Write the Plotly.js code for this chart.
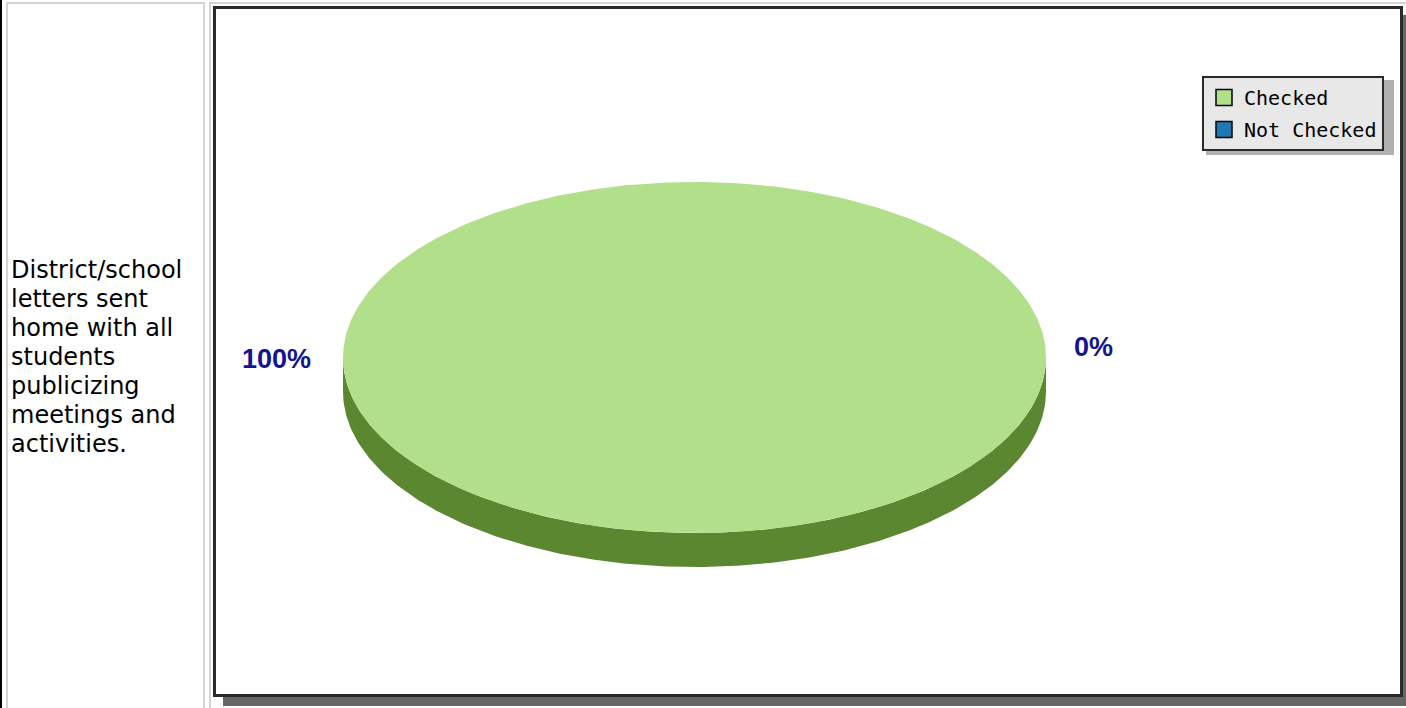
<!DOCTYPE html>
<html><head><meta charset="utf-8">
<script src="https://cdn.plot.ly/plotly-3.0.1.min.js"></script>
<style>
html,body{margin:0;padding:0;width:1406px;height:708px;overflow:hidden;background:#fff;}
#edge{position:absolute;left:0;top:0;width:2px;height:708px;background:#000;}
#cellL{position:absolute;left:6px;top:2px;width:195px;height:720px;border:2px solid #d4d4d4;}
#cellR{position:absolute;left:209px;top:2px;width:1200px;height:720px;border-left:2px solid #d4d4d4;border-top:2px solid #d4d4d4;}
#txt{position:absolute;left:11px;top:256px;font-family:"DejaVu Sans",Verdana,sans-serif;font-size:24px;line-height:29px;color:#000;white-space:nowrap;}
#shadow{position:absolute;left:223px;top:15px;width:1190px;height:691px;background:#666;}
#frame{position:absolute;left:213px;top:6px;width:1190px;height:691px;box-sizing:border-box;border:3px solid #2a2a2a;background:#fff;}
#plot{position:absolute;left:216px;top:9px;width:1184px;height:685px;}
</style>
</head><body>
<div id="edge"></div>
<div id="cellL"></div>
<div id="cellR"></div>
<div id="txt">District/school<br>letters sent<br>home with all<br>students<br>publicizing<br>meetings and<br>activities.</div>
<div id="shadow"></div>
<div id="frame"></div>
<div id="plot"></div>
<script>
// ---- data ----
const categories = ['Checked', 'Not Checked'];
const values = [100, 0];
// ---- styling ----
const topColors = ['#b2df8a', '#1f78b4'];
const sideColors = ['#5b8731', '#14507a'];
const W = 1184, H = 685;
const cx = 478.5, cy = 348.5, rx = 351.5, ry = 175.5, depth = 34;
const labelGap = [30, 26];
const labelShiftY = [-1, 11];

const total = values.reduce((a, b) => a + b, 0);
const traces = [];
const annotations = [];
function pt(t, dy) { return [cx + rx * Math.cos(t), cy - ry * Math.sin(t) + (dy || 0)]; }

let start = 0;
const slices = values.map((v, i) => {
  const a0 = start, a1 = start + 2 * Math.PI * v / total;
  start = a1;
  return {a0, a1, i};
});

// side walls (lower half of the ellipse, theta in [pi, 2pi])
slices.forEach(s => {
  const lo = Math.max(s.a0, Math.PI), hi = Math.min(s.a1, 2 * Math.PI);
  if (hi <= lo) return;
  const xs = [], ys = [];
  const n = 240;
  for (let k = 0; k <= n; k++) { const p = pt(lo + (hi - lo) * k / n); xs.push(p[0]); ys.push(p[1]); }
  for (let k = n; k >= 0; k--) { const p = pt(lo + (hi - lo) * k / n, depth); xs.push(p[0]); ys.push(p[1]); }
  traces.push({type: 'scatter', mode: 'lines', x: xs, y: ys, fill: 'toself', fillcolor: sideColors[s.i],
    line: {width: 0, color: sideColors[s.i]}, hoverinfo: 'skip', showlegend: false});
});

// top faces
slices.forEach(s => {
  if (s.a1 <= s.a0) return;
  const xs = [], ys = [];
  const full = (s.a1 - s.a0) >= 2 * Math.PI - 1e-9;
  if (!full) { xs.push(cx); ys.push(cy); }
  const n = 480;
  for (let k = 0; k <= n; k++) { const p = pt(s.a0 + (s.a1 - s.a0) * k / n); xs.push(p[0]); ys.push(p[1]); }
  traces.push({type: 'scatter', mode: 'lines', x: xs, y: ys, fill: 'toself', fillcolor: topColors[s.i],
    line: {width: 0, color: topColors[s.i]}, hoverinfo: 'skip', showlegend: false});
});

// labels
slices.forEach(s => {
  const m = (s.a0 + s.a1) / 2;
  const c = Math.cos(m), sn = Math.sin(m);
  const g = labelGap[s.i];
  annotations.push({
    x: cx + (rx + g) * c, y: cy - (ry + g * ry / rx) * sn,
    xref: 'x', yref: 'y', showarrow: false,
    text: Math.round(values[s.i] / total * 100) + '%',
    xanchor: c >= 0 ? 'left' : 'right', yanchor: 'middle',
    yshift: labelShiftY[s.i],
    font: {family: 'Liberation Sans, Arial, sans-serif', size: 27, color: '#14148c', weight: 'bold'}
  });
});

// legend entries
categories.forEach((c, i) => {
  traces.push({type: 'scatter', mode: 'markers', x: [null], y: [null], name: c, legendgroup: 'g' + i,
    marker: {symbol: 'square', size: 20, color: topColors[i], line: {color: '#000', width: 1.5}},
    hoverinfo: 'skip', showlegend: true});
});

const layout = {
  width: W, height: H,
  margin: {l: 0, r: 0, t: 0, b: 0, pad: 0},
  paper_bgcolor: 'rgba(0,0,0,0)', plot_bgcolor: 'rgba(0,0,0,0)',
  xaxis: {range: [0, W], visible: false, fixedrange: true},
  yaxis: {range: [H, 0], visible: false, fixedrange: true},
  showlegend: true,
  legend: {x: 986 / W, y: 1 - 67 / H, xanchor: 'left', yanchor: 'top',
    bgcolor: '#e8e8e8', bordercolor: '#2a2a2a', borderwidth: 2,
    font: {family: 'DejaVu Sans Mono, monospace', size: 20, color: '#000'},
    tracegroupgap: 3},
  shapes: [{type: 'rect', xref: 'x', yref: 'y', x0: 990, x1: 1178, y0: 71, y1: 146,
    fillcolor: '#b0b0b0', line: {width: 0}, layer: 'above'}],
  annotations: annotations
};
Plotly.newPlot('plot', traces, layout, {staticPlot: true, displayModeBar: false});
</script>
</body></html>
